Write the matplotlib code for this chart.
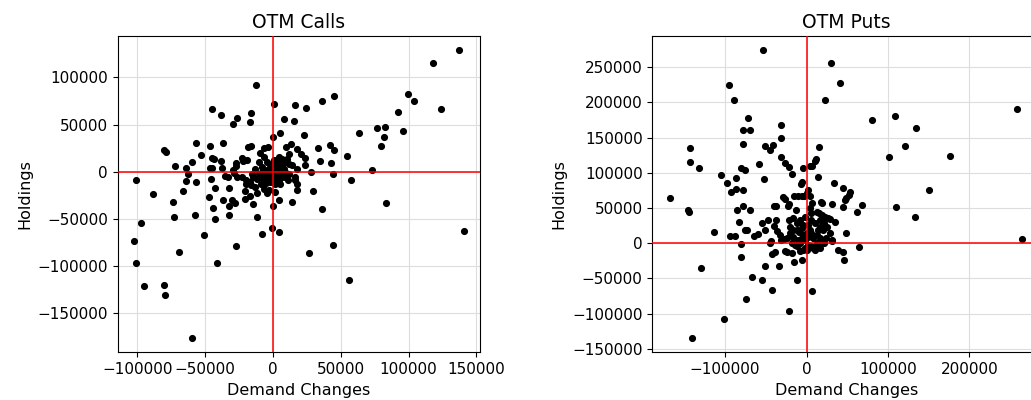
import numpy as np
import matplotlib
matplotlib.use("Agg")
import matplotlib.pyplot as plt

# OTM calls: demand change vs holdings
calls_demand = [
    137350, 117700, 99750, 103700, 124100, 92100, 95800, 76400, 82600, 63100,
    81800, 79600, 54500, 73200, 57700, 83300, 140500, 56000, 44500, 26500,
    35900, 29700, 14000, 4400, 200, -700, 4400, -7900, -11800, -27300,
    -41300, -50900, -42300, -57500, -69500, -73200, -73500, -88200, -97300, -102200,
    -100700, -95100, -80300, -79600, -59900, -100700,
    -12500, 500, 16500, 24300, 35900, 45200, 7900, 15500, 5200, 0,
    22600, -45200, -38100, -26500, -29700, -17000, -16500,
    -80600, -78900, -72500, -64100, -62400, -63900, -59900, -56300, -53100, -57000,
    -66100, -46700, -44700, -43700, -45200, -46200, -45900, -42800, -47200, -44200,
    -36600, -38100, -37300, -35600, -33400, -32700, -36900, -32400, -32700, -29700,
    -28700, -27000, -27000, -23100, -22100, -18900, -26300, -28000, -30200, -20600,
    -20600, -16700, -14300, -11800, -13500, -16000, -16700, -19700, -19900, -22600,
    -18200, -16000, -9600, -6400, -3900, -6900, -8100, -10600, -11800, -8800,
    -6400, -4400, -2700, -5400, -3200, -2000, -700,
    9300, 13300, 17700, 20400, 23300, 11800, 10600, 8800, 6600, 4200,
    2900, 5400, 7900, 11500, 14000, 17900, 23800, 28300, 33400, 34400,
    42000, 45200, 42800, 44500, 16500, 17700, 16500, 10800, 9100, 6600,
    4200, 1700, 5400, 1700, 17700,
    500, -700, 1700, -2000, 4200, 6600, -4400, 500, 2900, -3200,
    -5700, -8100, 1200, 3700, -700, -4400, -6900, 6600, 9100, 11500,
    -2000, 500, -9300, -14300, -15500, -13000, -10600, -4400, 4200, 6600,
]
calls_holdings = [
    128800, 115500, 82700, 75000, 66200, 63700, 43600, 46100, 47900, 40500,
    37000, 27100, 16900, 1400, -8800, -33400, -62700, -115100, -78100, -86900,
    -40100, -20100, -32400, -30300, -36600, -59500, -63700, -65800, -47900, -79200,
    -96800, -66900, -50300, -45800, -85900, -47900, -32400, -24300, -54600, -73900,
    -97200, -121800, -120700, -131600, -176700, -8800,
    91900, 71800, 70800, 67200, 75000, 80600, 56000, 53900, 40500, 37000,
    39100, 66200, 60500, 57000, 50300, 53200, 62000,
    22900, 20400, 5600, 3900, -2100, -9900, 10200, 30300, 18000, -11300,
    -21100, 26800, 14100, 13000, 4200, 3500, -8100, -17600, -26800, -39100,
    30300, 11300, 3900, -4200, -6000, -17600, -30300, -36600, -45800, 1400,
    -1100, 9500, 6300, 14100, 11600, 12700, -5600, -33800, -30300, -21100,
    -29200, -26000, -34500, -23200, -16200, -14400, -10600, -13000, -8800, -6000,
    26000, 26800, 19400, 25300, 26000, 15500, 4900, -2100, -7400, -12700,
    -18000, -22500, -19700, -12000, -9200, -5600, -2100,
    26000, 28900, 23900, 19000, 14400, 18300, 13400, 10200, 8400, 10200,
    4900, 1400, 3200, 8400, 6700, 3200, 6700, 0, 24600, 11300,
    27800, 22900, 9200, -2500, -5600, -13400, -9200, -8400, -5600, -5600,
    -9200, -12700, -13400, -21500, -19700,
    12000, 8400, 6700, 4900, 6700, 4900, 1400, 3200, -400, -2100,
    -400, -400, -3900, -5600, -7400, -5600, -7400, -2100, -400, -2100,
    -10900, -10900, -5600, -5600, -2100, 3200, 10200, 10200, 15500, 13700,
]

# OTM puts: demand change vs holdings
puts_demand = [
    -53200, 29900, 41300, -94900, -89600, 22100, 258100, 80600, 108800, -71600,
    -78100, -69900, 135000, -31100, -31100, -78100, -50700, -41700, -44600, 15500,
    120700, 176700, 101400, -31100, -142700, -142700, -132500, -105500, -98200, -92400,
    -86300, -86300, -81000, -75300, -78100, -58500, -51900, -26200, -21300, -18400,
    11900, 11000, 4100, 7000, -4100, 13900, -5700, -7000, 2000, 4100,
    -15100, -11000, -5300, -2500, 800, 33500, 44600, 53600, 52400, 48300,
    47000, 45400, 68300, 62200, 31100, 19200, 17200, 6500, 4100, 6100,
    12300, 15100, 18800, 22500, 26600, 29400, 34800, 21300, 16400, 14300,
    25400, 28600, 47900, 150500, 110400, 133300, -167700, -145600, -144400, -113300,
    -85900, -77700, -69900, -83000, -75300, -73200, -65000, -60100, -87500, -94500,
    -80600, -81000, -55200, -50700, -47900, -39700, -38000, -37200, -40500, -28600,
    -27000, -20900, -22900, -13500, -22100, -20500, -16400, -36800, -32700, -24500,
    -43800, -45000, -42900, -38900, -31100, -27800, -26200, -23700, -18400, -15500,
    -6100, -12300, -8200, -4900, -2000, 0, 4100, 8200, 12300, 10200,
    6100, -16400, -20500, -9800, 38900, 44200, 45800, 64600, -51100, -33500,
    -67500, -54800, -42500, -11900, 6500, -20900, -74000, -130100, -101400, -140300,
    265000, 31100, 31500,
    -12300, -6100, -4100, 2000, 6100, 12300, 16400, 14300, 2000, -2000,
    -6100, -10200, -14300, -18400, -8200, 0, 8200, 16400, 21300, 24500,
    20500, 16400, 10200, 2000, -4900, -11400, -16400, -8200, -2000, 6100,
]
puts_holdings = [
    273800, 255400, 227200, 224400, 203700, 203700, 190000, 175000, 180600, 177800,
    161300, 161300, 164200, 167500, 149600, 140600, 137400, 138800, 131700, 135900,
    137400, 124200, 122800, 122800, 134500, 114800, 106300, 96900, 85100, 72000,
    77600, 92700, 106300, 103500, 76200, 112000, 91300, 113800, 107700, 98800,
    120000, 117100, 109100, 109100, 106300, 94600, 87000, 84200, 75300, 67300,
    66300, 66300, 66300, 66300, 70600, 85100, 79000, 72000, 68700, 64400,
    60700, 51700, 53600, 44700, 55500, 57400, 58300, 56400, 50300, 42300,
    44700, 42300, 40000, 37600, 36200, 33900, 29600, 28200, 23500, 18800,
    23500, 14100, 15100, 76200, 50800, 37600, 64400, 47500, 43700, 16500,
    47000, 52700, 47500, 29600, 18300, 19300, 10800, 13200, 10300, 10300,
    -1400, -20200, 28200, 19300, 32900, 24000, 32500, 52700, 52200, 65900,
    63000, 55500, 53200, 47000, 32900, 23500, 18800, 17400, 11800, 7100,
    3300, 0, -15100, -13200, 4700, 5600, -11300, -12700, -14100, -26800,
    -24500, -4700, 0, -9400, 4700, 14100, 18800, 7100, 0, -9400,
    -4700, 9400, 14100, 16500, -10300, -13200, -24000, -6100, -32900, -32900,
    -47500, -52200, -66800, -52200, -67300, -96900, -79000, -35800, -107700, -134500,
    5600, 3800, 4700,
    18800, 21200, 11800, 9400, 14100, 11800, 7100, -4700, -2400, -7100,
    7100, 4700, -2400, 0, -11800, -9400, -7100, -7100, 0, 7100,
    18800, 32900, 28200, 25900, 25900, 28200, 35300, 32900, 37600, 32900,
]

fig = plt.figure(figsize=(10.31, 4.0), dpi=100)
ax1 = fig.add_axes([0.1142, 0.1193, 0.3514, 0.7907])
ax2 = fig.add_axes([0.6327, 0.1193, 0.3760, 0.7907])

panels = [
    (ax1, calls_demand, calls_holdings, "OTM Calls"),
    (ax2, puts_demand, puts_holdings, "OTM Puts"),
]
for ax, x, y, title in panels:
    ax.scatter(x, y, s=17, color="black", zorder=2)
    ax.axhline(0, color="red", linewidth=1.1, zorder=3)
    ax.axvline(0, color="red", linewidth=1.1, zorder=3)
    ax.grid(True, color="#dddddd", linewidth=0.8, zorder=0)
    ax.set_axisbelow(True)
    ax.set_title(title, fontsize=13.5)
    ax.set_xlabel("Demand Changes", fontsize=11.5)
    ax.set_ylabel("Holdings", fontsize=11.5)
    ax.tick_params(labelsize=11)

fig.savefig("out.png", dpi=100)
